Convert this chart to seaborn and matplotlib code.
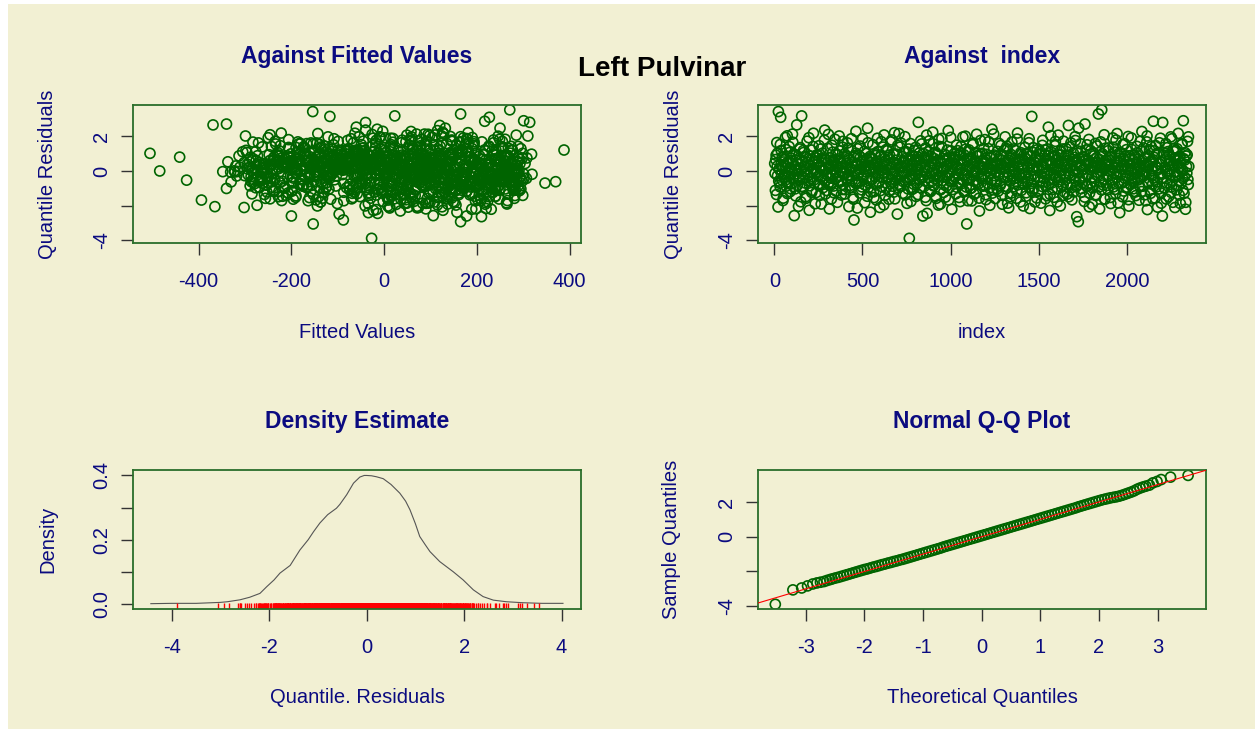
import numpy as np
import matplotlib
matplotlib.use("Agg")
import matplotlib.pyplot as plt
import seaborn as sns
from matplotlib.patches import Rectangle

# ---------------- data ----------------
# quantile residuals, first block of observations
residuals = [
    0.43, -1.12, 0.91, 1.64, -0.27, -2.08, 3.43, 0.12, -0.71, 3.10, 1.18, -0.52, 0.24, -1.57, 0.83, -0.19, 1.93, -0.88, 0.47, -1.31,
    -0.63, 1.41, 0.17, -1.02, 0.74, -0.06, 2.13, -0.38, 0.98, -2.58, 0.29, -1.44, 0.61, 2.66, -0.82, 0.09, -0.33, 1.27, -1.78, 3.18,
    0.52, -0.94, 1.07, -0.21, 0.03, -1.49, 0.79, 1.72, -0.58, 0.34, -2.27, 0.86, -0.43, 1.21, -1.13, 0.14, 2.18, -0.70, 0.57, -0.08,
    -1.24, 0.38, 0.93, -0.29, 1.46, -0.81, 0.22, -1.91, 0.68, 1.03, -0.47, 0.01, 2.36, -1.33, 0.63, -0.16, 1.31, -0.74, 0.27, -2.19,
    0.77, -0.42, -1.61, 0.11, 1.09, -0.87, 0.53, 1.83, -0.12, -1.18, 0.31, 0.94, -0.59, 2.02, -0.26, 0.58, -1.39, 0.19, 1.37, -0.79,
    -0.17, 0.99, -1.08, 0.42, -0.49, 1.62, 0.71, -2.06, 0.18, -0.83, 1.23, -0.31, 0.48, -1.52, -2.83, 0.88, 0.04, 2.29, -0.68, 0.33,
    1.28, -0.61, 0.08, -1.27, 0.80, 0.39, -0.92, 1.87, -0.23, 0.62, -1.83, 0.26, 1.01, -0.41, 2.47, -0.97, -0.02, 0.73, -2.38, 0.49,
    -0.53, 0.67, 1.52, -1.21, 0.16, -0.34, 0.89, -1.68, 0.44, 1.12, -0.64, 0.06, -2.11, 0.81, 1.69, -0.91, 0.28, -0.11, 2.08, -1.41,
    0.59, -0.99, 0.32, 1.17, -0.37, -1.63, 0.92, 0.13, -0.73, 1.79, -0.18, 0.51, -1.22, 2.21, -0.04, -0.54, 0.97, -2.49, 0.41, -0.78,
    -0.28, 1.38, -0.89, 0.23, 0.82, -1.29, 0.54, -0.09, 1.98, -0.62, 1.11, -1.87, 0.30, 0.69, -3.89, -0.39, 1.58, 0.02, -1.07, 0.87,
    0.37, -0.77, 1.19, -0.22, -1.47, 0.64, 0.07, 2.81, -0.51, 1.04, -0.96, 0.33, 1.56, -0.32, -2.60, 0.76, -0.57, 0.21, 1.33, -1.71,
    0.00, -2.45, 0.89, -0.69, 1.74, 0.28, -1.19, 0.46, -0.13, 2.24, -0.86, 0.72, -0.44, 1.08, -1.58, 0.17, 0.61, -1.97, 1.42, -0.27,
    -1.09, 0.48, 1.88, -0.36, 0.12, -0.79, 0.96, -1.51, 0.29, 0.71, -0.24, 2.33, -0.98, 0.43, -0.61, 1.16, -2.21, 0.04, 0.78, -0.48,
    0.66, -0.31, -1.32, 1.49, 0.19, -0.67, 0.91, 0.03, -1.77, 1.06, 0.36, -0.52, 1.96, -1.14, 0.59, -0.21, 1.26, -0.93, -3.06, 0.27,
    -0.42, 1.22, 0.34, -1.01, 0.78, -1.73, 0.09, 1.61, -0.58, 0.49, -0.11, -1.28, 2.12, 0.86, -0.77, 0.22, -2.31, 0.98, -0.29, 0.57,
    1.02, -0.88, 0.41, -0.19, 1.81, -1.37, 0.63, -0.01, -0.72, 1.29, 0.18, -1.98, 0.77, -0.53, 2.41, -1.09, 0.32, 0.92, -0.27, -1.59,
    -0.62, 0.31, 1.13, -1.17, 0.69, -0.07, -0.83, 1.47, 0.38, -1.92, 0.87, 0.12, -0.39, 1.97, -1.03, 0.52, 1.28, -0.33, -2.13, 0.59,
    0.21, -1.48, 0.82, 1.67, -0.28, 0.47, -0.91, 0.03, 1.19, -0.63, -1.16, 2.19, 0.29, -0.17, 0.68, -1.79, 0.97, -0.42, 0.39, -0.68,
    -0.76, 0.58, 1.36, -0.12, -1.26, 0.94, 0.17, -0.49, 1.86, -2.17, 0.42, -0.71, 3.15, 0.08, 1.07, -1.01, 0.52, -0.32, 0.79, -1.56,
    0.28, -0.37, -1.12, 0.97, 0.72, -1.86, -0.03, 1.48, -0.63, 0.24, -0.18, 1.21, -0.87, 0.58, -1.43, 0.91, 2.53, -0.47, -2.28, 0.39,
    1.09, -0.69, 0.43, -0.23, -1.52, 0.81, 1.71, -0.38, 0.13, -1.04, 2.07, 0.48, -0.27, -2.02, 0.93, 0.02, 1.27, -0.82, 0.34, -1.23,
    -0.51, 0.88, 0.21, -1.34, 0.62, 2.63, -0.14, 1.39, -0.78, 0.27, -1.67, 0.66, 1.03, -0.43, -0.01, 1.76, -0.91, -2.64, 0.53, -2.93,
    2.47, -0.58, 0.32, 1.13, -1.23, 0.04, -0.29, 0.77, -1.76, 2.71, 0.41, -0.87, 1.51, -0.22, 0.61, -2.07, 0.11, 1.18, -0.72, 0.19,
    -0.98, 0.47, 0.87, -0.41, 1.59, -1.42, 0.23, -0.08, 3.29, 0.68, -2.19, 0.32, -0.63, 3.53, 0.99, -0.81, 0.12, -1.62, 1.31, 0.38,
    0.61, -0.28, -1.07, 1.33, 0.02, 0.79, -1.88, 0.37, -0.49, 1.91, -0.92, 0.18, 1.09, -1.31, -0.19, 2.16, 0.53, -0.68, 0.87, -2.41,
    -0.21, 0.98, 0.28, -1.49, 0.72, -0.61, 1.57, 0.09, -0.97, 0.52, -0.33, 1.99, -2.03, 0.88, -0.79, 0.03, 1.24, -0.37, 0.63, -1.19,
    0.93, -0.48, -1.21, 0.36, 1.42, -0.09, 0.69, -1.69, 0.22, -0.41, 1.14, 2.28, -0.88, 0.47, -0.23, -1.38, 0.81, -0.03, 1.68, -2.23,
    -0.67, 0.29, 1.23, -1.11, 0.57, -0.28, 0.14, -1.61, 2.87, 0.79, -0.52, 1.47, -0.93, 0.18, -2.09, 1.01, 0.42, -0.17, 1.89, -1.27,
    0.48, -2.60, 2.80, -0.38, 0.91, -0.99, 0.21, 1.58, -0.69, 0.01, 1.12, -1.48, 0.59, -0.24, 1.97, -0.91, 0.31, -1.81, 1.29, 0.72,
    -0.32, 1.19, -1.09, 0.37, 2.17, -0.59, 0.83, -1.88, 0.07, 1.52, -0.41, 2.90, -1.29, 0.63, -2.21, 0.86, -0.12, 1.71, -0.79, 0.26,
]

# quantile residuals, second block of observations
residuals_b = [
    -0.14, 0.66, -1.36, 0.27, 1.04, -0.58, 0.09, -0.92, 1.53, 0.36, -0.21, 0.81, -1.71, 0.52, -0.37, 0.14, 1.24, -0.66, 2.03, -0.03,
    0.44, -0.28, 1.07, -1.19, 0.18, -0.74, 0.61, 1.66, -0.46, 0.07, -1.03, 0.93, -0.16, 0.39, -2.04, 0.72, -0.52, 1.35, 0.11, -0.89,
    -0.41, 1.18, 0.26, -0.69, 0.84, -1.58, 0.13, 0.49, -0.24, 1.92, -0.86, 0.33, -0.07, -1.24, 0.67, 1.41, -0.53, 0.06, -1.89, 0.75,
    0.92, -0.11, -0.76, 0.58, -1.42, 0.31, 1.27, -0.33, 0.04, -0.97, 0.71, 1.78, -0.59, 0.17, -1.13, 0.46, -0.26, 2.11, -0.68, 0.22,
    -0.84, 0.35, 1.49, -0.18, 0.62, -1.26, 0.08, -0.45, 0.97, 0.24, -1.81, 0.69, -0.31, 1.16, 0.02, -0.62, 0.43, -1.07, 1.71, -0.09,
    0.57, -1.33, 0.19, 0.86, -0.43, 1.31, -0.22, 0.64, -0.96, 0.11, 1.86, -0.57, 0.28, -1.63, 0.79, -0.12, -0.71, 1.02, 0.37, -2.14,
    -0.26, 0.91, -0.63, 1.44, 0.12, -1.09, 0.53, -0.38, 0.22, 1.13, -0.82, -0.04, 0.68, -1.46, 1.63, 0.29, -0.56, 0.84, -1.21, 0.16,
    0.73, -0.47, 0.38, -1.54, 1.01, 0.16, -0.81, 0.57, 1.89, -0.19, -0.67, 0.27, -1.14, 0.92, 0.03, -0.36, 1.38, -1.96, 0.49, -0.06,
    -0.69, 1.24, 0.07, -0.33, 0.79, -1.17, 0.46, 1.68, -0.52, 0.23, -0.88, 0.98, -0.14, -1.61, 0.62, 0.31, -0.42, 1.47, -0.97, 2.16,
    0.24, -0.86, 1.61, -0.27, 0.47, -0.61, 1.09, 0.18, -1.38, 0.73, -0.08, 0.36, -1.04, 1.27, -0.43, 0.59, -1.76, 0.14, 0.91, -0.31,
    -1.01, 0.53, -0.17, 1.36, 0.29, -0.72, 0.82, -1.36, 0.11, 0.64, -0.49, 1.74, -0.23, 0.41, 1.02, -0.91, 0.06, -1.52, 0.77, 2.07,
    0.63, -0.38, 1.12, -1.11, 0.21, 0.84, -0.62, 0.04, 1.57, -0.82, 0.38, -0.19, -1.46, 0.97, 0.14, -0.54, 1.83, -0.29, 0.51, -1.91,
    0.19, 1.39, -0.56, 0.72, -1.24, 0.09, 0.58, -0.34, -0.87, 1.21, 0.34, -1.68, 0.81, -0.12, 1.94, -0.61, 0.27, -1.07, 0.46, 0.99,
    -0.36, 0.81, 0.29, -0.94, 1.17, -0.19, -1.53, 0.66, 0.12, 1.42, -0.73, 0.44, -0.27, 0.94, -1.19, 2.01, 0.07, -0.48, 0.63, -1.72,
    1.11, -0.52, 0.16, 0.73, -0.99, 0.41, 1.52, -0.28, -1.34, 0.58, 0.02, 1.03, -0.66, -0.13, 0.89, -1.57, 0.34, 1.76, -0.41, 0.21,
    -0.47, 0.22, 1.31, -0.83, 0.51, -1.66, 0.96, 0.13, -0.31, 1.69, -0.98, 0.37, -0.14, 0.83, -1.28, 0.06, 2.13, -0.61, 0.46, -0.06,
    0.86, -1.03, 0.39, -0.24, 1.58, 0.14, -0.72, 0.93, -1.41, 0.27, -0.36, 1.19, 0.48, -0.89, -0.04, 1.43, -1.86, 0.62, -0.18, 0.71,
    -0.59, 0.96, -1.27, 0.33, 0.08, 1.27, -0.44, 0.72, -0.17, -1.58, 1.84, 0.26, -0.79, 0.54, -0.32, 1.06, -1.12, 0.13, 0.67, -2.02,
    0.32, -0.16, 0.74, -1.46, 1.02, -0.63, 0.23, 1.63, -0.97, 0.47, -0.27, 0.88, -1.17, 0.09, 1.34, -0.51, -1.79, 0.66, 0.17, 1.22,
    -1.18, 0.62, 0.09, 1.14, -0.58, 0.34, -0.89, 1.77, 0.19, -0.44, 0.91, -1.61, 0.42, -0.09, 1.27, -0.73, 0.58, -1.36, 2.04, -0.22,
    0.48, -1.07, 0.83, 0.16, -0.49, 1.46, -0.31, 0.66, -1.79, 0.27, 0.93, -0.62, 1.13, 0.04, -0.93, 0.38, -1.41, 1.72, -0.16, 0.57,
    -0.32, 1.29, -0.73, 0.44, 0.91, -1.49, 0.17, -0.26, 1.62, -0.96, 0.53, 0.02, -1.21, 0.79, 1.98, -0.57, 0.31, -0.84, 1.16, -0.11,
    0.71, -0.43, 1.57, -1.02, 0.26, -0.67, 0.84, 0.12, -1.51, 0.58, 1.21, -0.21, -0.89, 0.43, 1.82, -1.28, 0.07, 0.96, -0.36, -1.93,
    0.27, 1.03, -0.61, 0.13, -1.37, 0.76, 1.44, -0.24, 0.47, -0.92, 0.19, 1.68, -1.09, -0.02, 0.86, -0.47, 2.09, -1.63, 0.34, 0.61,
    -0.84, 0.39, 1.17, -0.29, 0.63, -1.53, 0.08, 0.94, -0.66, 1.37, -0.13, -1.07, 0.52, 1.79, -0.38, 0.21, -1.84, 0.74, -0.02, 1.08,
    0.56, -0.71, 0.14, 1.52, -1.16, 0.31, -0.44, 0.87, 1.23, -0.93, 0.06, -1.66, 0.68, 0.29, -0.27, 1.91, -0.58, 0.43, -1.03, 0.12,
    -0.19, 0.81, -1.42, 0.47, 1.06, -0.52, 0.24, -0.86, 1.71, 0.09, -1.19, 0.62, -0.31, 1.33, -0.07, 0.77, -1.72, 0.36, 2.02, -0.64,
    0.88, -0.22, 0.49, -1.29, 1.41, 0.03, -0.78, 0.64, -0.41, 1.16, -1.57, 0.28, 0.96, -0.63, 0.17, -1.04, 1.63, -0.14, 0.53, -1.86,
    -0.44, 1.07, -0.96, 0.23, 0.69, -1.62, 1.34, -0.18, 0.42, 0.93, -0.77, 0.11, -1.24, 1.86, -0.53, 0.36, 1.12, -0.06, -2.11, 0.74,
    0.61, -0.83, 1.28, -0.26, 0.19, -1.39, 0.84, 0.47, -0.68, 1.58, 0.04, -1.12, 0.71, -0.34, 1.06, -1.81, 0.26, 0.93, -0.49, 1.97,
]

# fitted values, first block
fitted = [
    -212, 45, -88, 163, -301, 12, -154, 254, -47, 227, 118, -265, 71, -133, 289, -19, 190, -176, 96, -58,
    138, -243, -71, 205, -9, -322, 87, 276, -118, 106, 33, -190, 241, -369, -36, 152, -287, 60, 223, 23,
    -98, 174, -230, 8, 262, -141, 66, -45, 298, -275, 127, -13, 213, 388, -199, 41, -63, 347, 184, -111,
    235, -27, 142, -318, 79, -164, 18, 265, -84, 197, -252, 113, -40, 58, -128, 280, -205, 147, -5, 90,
    -72, 216, -246, 31, 168, -104, -337, 249, 4, -158, 131, 73, -220, 310, -55, 188, -17, -123, 257, 99,
    161, -183, 52, -31, 232, -271, 120, -365, -95, 283, 15, -144, 200, 82, -88, -231, 140, -3, -60, 245,
    -120, 37, 271, -207, -441, 104, -66, 178, -293, 219, 49, -24, -169, 293, 132, -81, 6, -239, 157, 63,
    -426, 211, -49, 122, -260, 248, -11, -394, 85, 169, -135, 27, -302, 260, 194, -76, 57, -188, 110, -33,
    193, -214, 76, -42, 268, -115, 148, 2, -279, 236, -160, 96, -21, 181, -348, 43, 318, -97, 127, -184,
    55, -136, 230, -258, 117, -69, 274, -192, 165, 11, -305, 90, 203, -44, -27, 245, -167, 135, -4, -226,
    -62, 186, -298, 68, 240, -151, 20, 314, -107, 159, -38, 286, -234, 101, -200, 47, 213, -85, -172, 266,
    -484, -14, 252, -125, 74, -217, 178, -52, 290, 126, -289, 36, 222, -161, 93, -3, -246, 155, 61, -103,
    146, -233, 19, 280, -94, 207, -174, 58, -320, 240, -28, 115, -140, 304, 81, -57, 189, -259, 29, 171,
    -39, 228, -285, 107, 13, -196, 265, -75, 149, -130, 52, 201, -10, 292, -227, 86, -112, 167, -153, 38,
    259, -81, 124, -340, 72, 197, -20, -145, 241, 9, -263, 161, 95, -58, 276, -192, 35, 214, -116, 83,
    -505, 133, -44, 247, -206, 62, 185, -132, 17, 295, -89, -274, 112, 229, -15, 154, -178, 39, -65, 208,
    370, -101, 176, -240, 46, 263, -156, 92, -30, 218, -313, 138, 3, -121, 250, -69, 115, -198, 71, -8,
    210, -52, 84, -283, 143, 33, -165, 275, -92, 189, -6, -222, 121, 56, 238, -137, -37, 302, -255, 99,
    -74, 252, -190, 129, 18, -248, 172, 64, -108, 220, -31, 284, -117, 103, -296, 41, 195, -150, 8, 146,
    183, -129, 27, 236, -213, 95, -46, 156, -330, 67, 271, -99, 200, -169, 14, 119, -60, 243, -23, -268,
    -186, 75, 293, -61, 141, 6, -235, 192, -118, 261, 49, -302, 168, -41, 215, -140, 91, -11, 286, -87,
    39, -209, 154, 268, -96, 120, -16, -263, 230, 80, -147, 196, -55, 307, -178, 58, 139, 210, -290, 165,
    250, 15, -136, 182, -64, 244, -223, 107, -2, -340, 163, 51, -109, 219, -276, 125, -35, 277, -181, 69,
    -126, 204, 26, -244, 135, 282, -79, -160, 165, 60, 198, -29, 111, 271, -201, 81, -295, 248, -48, 173,
    92, -171, 239, -19, -286, 150, 44, -106, 267, 3, -215, 178, -66, 125, 319, -143, 23, -251, 206, -34,
    256, -91, 119, -228, 35, 192, -153, 76, -8, 288, -266, 143, 8, -45, 223, -187, 100, 61, -124, 233,
    -51, 164, -253, 97, 274, -113, 21, 209, -311, 130, -82, 58, 246, -164, -1, 185, -237, 112, 47, -17,
    143, -219, 70, 283, -149, 28, 199, -70, 217, -288, 109, -25, 239, -198, 52, 162, -93, 301, 14, -130,
    -270, 178, -40, 123, 260, -57, 191, -180, 87, -323, 36, 226, -121, 155, -8, 279, -211, 99, -77, 247,
    65, -150, 212, -30, 128, -245, 266, -101, 10, 175, -196, 301, 42, -62, 231, 88, -281, 147, -14, 253,
]

# fitted values, second block
fitted_b = [
    62, -187, 214, -94, 147, -266, 29, 185, -139, 275, -37, 98, -221, 243, 6, -108, 168, -53, 124, -315,
    -163, 81, -12, 233, -76, 157, -238, 19, 296, -128, 111, -43, 198, -295, 71, -184, 262, 1, -97, 139,
    206, -66, 134, -199, 47, 281, -117, -21, 169, -250, 88, 226, -148, 14, -82, 252, -176, 103, -34, 308,
    -49, 161, -132, 251, -211, 73, -7, 217, -90, 126, -283, 39, 187, -60, 279, -162, 95, -26, 236, -119,
    117, -243, 54, -112, 196, -32, 267, -179, 84, -70, 152, -15, 240, -226, 31, -147, 208, 68, -99, 287,
    -204, 24, 178, -57, 255, -137, 92, -2, -269, 143, 57, 231, -87, -196, 119, 191, -41, 299, -156, 12,
    173, -99, -29, 226, -173, 66, 288, -121, 149, -48, -254, 105, 16, 240, -66, -212, 133, 42, -131, 259,
    -77, 249, 32, -161, 117, -284, 201, 79, -24, -146, 269, 7, 155, -228, 94, -58, 227, 115, -107, -331,
    36, -127, 282, -63, 141, -199, 71, 211, -11, -247, 163, -81, 251, 22, -169, 101, -37, 193, -277, 128,
    -141, 197, -18, 87, -218, 259, -55, 133, 44, -91, 178, -259, 295, -8, 123, -182, 64, -121, 241, 17,
    238, -33, 109, -206, 59, -87, 186, -153, 271, 3, -262, 145, -47, 219, 79, -124, 30, -191, 162, 285,
    -110, 69, -277, 167, 27, -63, 234, 119, -184, 290, -19, 76, 196, -137, 48, -236, 261, 12, -88, 137,
    83, -174, 207, -22, 131, -103, 262, -208, 49, -59, 177, 9, -146, 231, 104, -287, 152, -38, 276, -14,
    177, -114, 41, -242, 218, 96, -67, 146, -189, 289, -1, -134, 112, 61, -227, 246, -85, 18, 196, -164,
    -22, 155, -198, 92, 244, -52, 15, -163, 189, 125, -106, 272, 54, -240, 147, -29, 224, -79, 100, -291,
    118, -56, 268, -174, 6, 202, -121, 85, -249, 163, 37, -94, 245, -13, 131, -203, 70, 282, -146, 54,
    -89, 233, -145, 40, 182, -24, -263, 121, 299, -67, 156, 1, -190, 90, 212, -128, 49, 258, -51, -214,
    154, -171, 96, 261, -41, 20, 203, -115, 129, -256, 81, -31, 232, -200, 58, 179, -74, 11, 293, -144,
    35, 195, -102, -219, 142, 71, -56, 236, -167, 4, 113, -273, 178, -12, 255, 86, -137, 27, -63, 217,
    -237, 107, 270, -81, 46, -152, 168, -17, 223, 130, -109, 11, -198, 286, 63, -48, 186, -258, 98, 151,
    226, -14, -161, 137, 74, -224, 248, -69, 109, 2, -183, 167, -112, 291, 38, -245, 205, 91, -36, 142,
    -124, 190, 53, -197, 266, 119, -83, 1, -158, 223, 98, -273, 145, 33, -54, 257, -217, 172, 72, -11,
    103, -236, 194, 10, -106, 271, 56, -170, 138, -31, 241, -90, 84, -261, 180, -5, 118, -141, 292, 26,
    -160, 61, 238, -71, 161, -220, 13, 204, -98, 117, -26, -186, 279, 82, -129, 143, -246, 36, 212, -57,
    199, -108, 30, 271, -165, 115, -42, 167, -283, 76, 229, -12, -121, 146, 52, -209, 264, -74, 187, 5,
    -61, 150, -227, 88, 213, -140, 24, -89, 276, 124, -192, 47, -35, 235, -116, 171, -268, 60, 291, -3,
    131, -204, 67, 227, -54, 184, -126, 13, 255, -233, 99, -18, 158, -171, 44, 270, -87, 209, -299, 110,
    -32, 263, -150, 56, 121, -262, 176, -77, 94, 233, 7, -197, 146, -48, 285, -119, 37, 197, -218, 83,
    168, -93, 277, -207, 58, 134, -44, 252, -153, 19, 191, -241, 106, -71, 237, -17, 159, -130, 74, 298,
    -197, 48, 157, -125, 263, 17, -76, 192, -225, 124, -38, 248, 81, -160, 3, 217, -110, 140, -283, 59,
]

# observation index, first block
obs_index = [
    2, 6, 10, 14, 18, 21, 23, 27, 31, 36, 39, 43, 47, 51, 55, 59, 63, 67, 71, 75,
    80, 84, 88, 91, 95, 99, 103, 107, 110, 113, 117, 121, 124, 127, 131, 135, 139, 144, 150, 155,
    159, 163, 167, 171, 175, 178, 182, 186, 190, 194, 198, 202, 206, 210, 214, 218, 222, 226, 230, 234,
    238, 242, 246, 250, 254, 258, 262, 266, 270, 274, 278, 282, 286, 290, 294, 298, 302, 305, 309, 312,
    316, 320, 324, 328, 332, 336, 340, 344, 348, 352, 356, 360, 364, 368, 372, 376, 380, 384, 388, 391,
    395, 399, 403, 407, 411, 415, 419, 423, 427, 431, 435, 439, 443, 447, 452, 455, 459, 463, 466, 469,
    473, 477, 481, 485, 489, 493, 497, 501, 505, 509, 513, 517, 521, 525, 529, 533, 537, 541, 545, 548,
    551, 555, 559, 563, 567, 571, 575, 579, 583, 587, 591, 595, 599, 603, 607, 611, 615, 619, 623, 627,
    630, 634, 638, 642, 646, 650, 654, 658, 662, 666, 670, 674, 678, 682, 686, 690, 694, 698, 702, 705,
    709, 713, 717, 721, 725, 729, 733, 737, 741, 745, 749, 753, 757, 761, 766, 769, 773, 777, 781, 784,
    788, 792, 796, 800, 804, 808, 812, 817, 820, 824, 828, 832, 836, 840, 843, 847, 851, 855, 859, 862,
    865, 867, 871, 875, 879, 883, 887, 891, 895, 899, 903, 907, 911, 915, 919, 923, 927, 931, 935, 939,
    943, 947, 951, 955, 959, 963, 967, 971, 975, 979, 983, 987, 991, 995, 999, 1003, 1007, 1011, 1015, 1018,
    1022, 1026, 1030, 1034, 1038, 1042, 1046, 1050, 1054, 1058, 1062, 1066, 1070, 1074, 1078, 1082, 1086, 1089, 1092, 1096,
    1100, 1104, 1108, 1112, 1116, 1120, 1124, 1128, 1132, 1136, 1140, 1144, 1148, 1152, 1156, 1160, 1164, 1168, 1172, 1175,
    1179, 1183, 1187, 1191, 1195, 1199, 1203, 1207, 1211, 1215, 1219, 1223, 1227, 1231, 1235, 1239, 1243, 1247, 1251, 1254,
    1258, 1262, 1266, 1270, 1274, 1278, 1282, 1286, 1290, 1294, 1298, 1302, 1306, 1310, 1314, 1318, 1322, 1326, 1330, 1333,
    1336, 1340, 1344, 1348, 1352, 1356, 1360, 1364, 1368, 1372, 1376, 1380, 1384, 1388, 1392, 1396, 1400, 1404, 1408, 1411,
    1414, 1418, 1422, 1426, 1430, 1434, 1438, 1442, 1446, 1450, 1454, 1458, 1461, 1465, 1469, 1473, 1477, 1481, 1485, 1489,
    1493, 1497, 1501, 1505, 1509, 1513, 1517, 1521, 1525, 1529, 1533, 1537, 1541, 1545, 1549, 1553, 1555, 1559, 1563, 1567,
    1571, 1575, 1579, 1583, 1587, 1591, 1595, 1599, 1603, 1607, 1611, 1615, 1619, 1623, 1627, 1631, 1635, 1639, 1643, 1646,
    1650, 1654, 1658, 1662, 1666, 1669, 1673, 1677, 1681, 1685, 1689, 1693, 1697, 1701, 1705, 1709, 1713, 1716, 1721, 1725,
    1727, 1731, 1735, 1739, 1743, 1747, 1751, 1755, 1759, 1763, 1767, 1771, 1775, 1779, 1783, 1787, 1791, 1795, 1799, 1803,
    1806, 1810, 1814, 1818, 1822, 1826, 1830, 1834, 1839, 1842, 1846, 1850, 1854, 1858, 1862, 1866, 1870, 1874, 1878, 1881,
    1885, 1889, 1893, 1897, 1901, 1905, 1909, 1913, 1917, 1921, 1925, 1929, 1933, 1937, 1941, 1945, 1949, 1953, 1957, 1960,
    1964, 1968, 1972, 1976, 1980, 1984, 1988, 1992, 1996, 2000, 2004, 2008, 2012, 2016, 2020, 2024, 2028, 2032, 2036, 2039,
    2042, 2046, 2050, 2054, 2058, 2062, 2066, 2070, 2074, 2078, 2082, 2086, 2090, 2094, 2098, 2102, 2106, 2110, 2114, 2117,
    2121, 2125, 2129, 2133, 2137, 2141, 2145, 2148, 2151, 2155, 2159, 2163, 2167, 2171, 2175, 2179, 2183, 2187, 2191, 2195,
    2198, 2202, 2204, 2206, 2210, 2214, 2218, 2222, 2226, 2230, 2234, 2238, 2242, 2246, 2250, 2254, 2258, 2262, 2266, 2270,
    2276, 2280, 2284, 2288, 2292, 2296, 2300, 2304, 2308, 2312, 2316, 2321, 2325, 2329, 2333, 2337, 2341, 2345, 2349, 2352,
]

# observation index, second block
obs_index_b = [
    4, 8, 12, 16, 19, 25, 29, 33, 34, 38, 41, 45, 49, 53, 57, 61, 65, 69, 73, 77,
    79, 82, 86, 90, 93, 97, 101, 105, 109, 115, 119, 123, 129, 133, 137, 141, 142, 147, 152, 157,
    161, 165, 169, 173, 177, 180, 184, 188, 192, 196, 200, 204, 208, 212, 216, 220, 224, 228, 232, 236,
    240, 244, 248, 252, 256, 260, 264, 268, 272, 276, 280, 284, 288, 292, 296, 300, 303, 307, 310, 314,
    318, 322, 326, 330, 334, 338, 342, 346, 350, 354, 358, 362, 366, 370, 374, 378, 382, 386, 389, 393,
    397, 401, 405, 409, 413, 417, 421, 425, 429, 433, 437, 441, 445, 449, 450, 457, 461, 464, 468, 471,
    475, 479, 483, 487, 491, 495, 499, 503, 507, 511, 515, 519, 523, 527, 531, 535, 539, 543, 546, 550,
    553, 557, 561, 565, 569, 573, 577, 581, 585, 589, 593, 597, 601, 605, 609, 613, 617, 621, 625, 629,
    632, 636, 640, 644, 648, 652, 656, 660, 664, 668, 672, 676, 680, 684, 688, 692, 696, 700, 703, 707,
    711, 715, 719, 723, 727, 731, 735, 739, 743, 747, 751, 755, 759, 763, 764, 771, 775, 779, 782, 786,
    790, 794, 798, 802, 806, 810, 814, 815, 818, 822, 826, 830, 834, 838, 845, 849, 853, 857, 861, 864,
    869, 873, 877, 881, 885, 889, 893, 897, 901, 905, 909, 913, 917, 921, 925, 929, 933, 937, 941, 942,
    945, 949, 953, 957, 961, 965, 969, 973, 977, 981, 985, 989, 993, 997, 1001, 1005, 1009, 1013, 1016, 1020,
    1024, 1028, 1032, 1036, 1040, 1044, 1048, 1052, 1056, 1060, 1064, 1068, 1072, 1076, 1080, 1084, 1087, 1091, 1094, 1098,
    1102, 1106, 1110, 1114, 1118, 1122, 1126, 1130, 1134, 1138, 1142, 1146, 1150, 1154, 1158, 1162, 1166, 1170, 1173, 1177,
    1181, 1185, 1189, 1193, 1197, 1201, 1205, 1209, 1213, 1217, 1221, 1225, 1229, 1233, 1237, 1241, 1245, 1249, 1252, 1256,
    1260, 1264, 1268, 1272, 1276, 1280, 1284, 1288, 1292, 1296, 1300, 1304, 1308, 1312, 1316, 1320, 1324, 1328, 1331, 1335,
    1338, 1342, 1346, 1350, 1354, 1358, 1362, 1366, 1370, 1374, 1378, 1382, 1386, 1390, 1394, 1398, 1402, 1406, 1409, 1413,
    1416, 1420, 1424, 1428, 1432, 1436, 1440, 1444, 1448, 1452, 1456, 1460, 1463, 1467, 1471, 1475, 1479, 1483, 1487, 1491,
    1495, 1499, 1503, 1507, 1511, 1515, 1519, 1523, 1527, 1531, 1535, 1539, 1543, 1547, 1551, 1557, 1561, 1565, 1569, 1570,
    1573, 1577, 1581, 1585, 1589, 1593, 1597, 1601, 1605, 1609, 1613, 1617, 1621, 1625, 1629, 1633, 1637, 1641, 1644, 1648,
    1652, 1656, 1660, 1664, 1668, 1671, 1675, 1679, 1683, 1687, 1691, 1695, 1699, 1703, 1707, 1711, 1715, 1718, 1719, 1723,
    1729, 1733, 1737, 1741, 1745, 1749, 1753, 1757, 1761, 1765, 1769, 1773, 1777, 1781, 1785, 1789, 1793, 1797, 1801, 1804,
    1808, 1812, 1816, 1820, 1824, 1828, 1832, 1836, 1837, 1844, 1848, 1852, 1856, 1860, 1864, 1868, 1872, 1876, 1879, 1883,
    1887, 1891, 1895, 1899, 1903, 1907, 1911, 1915, 1919, 1923, 1927, 1931, 1935, 1939, 1943, 1947, 1951, 1955, 1958, 1962,
    1966, 1970, 1974, 1978, 1982, 1986, 1990, 1994, 1998, 2002, 2006, 2010, 2014, 2018, 2022, 2026, 2030, 2034, 2037, 2041,
    2044, 2048, 2052, 2056, 2060, 2064, 2068, 2072, 2076, 2080, 2084, 2088, 2092, 2096, 2100, 2104, 2108, 2112, 2115, 2119,
    2123, 2127, 2131, 2135, 2139, 2143, 2146, 2150, 2153, 2157, 2161, 2165, 2169, 2173, 2177, 2181, 2185, 2189, 2193, 2196,
    2200, 2208, 2212, 2216, 2220, 2224, 2228, 2232, 2236, 2240, 2244, 2248, 2252, 2256, 2260, 2264, 2268, 2272, 2273, 2274,
    2278, 2282, 2286, 2290, 2294, 2298, 2302, 2306, 2310, 2314, 2318, 2319, 2323, 2327, 2331, 2335, 2339, 2343, 2347, 2350,
]

# kernel density estimate of the residuals (curve)
density_x = [-4.43, -4.0, -3.5, -3.0, -2.86, -2.6, -2.4, -2.19, -2.05, -1.9, -1.78, -1.57, -1.37, -1.2,
             -1.09, -0.96, -0.8, -0.62, -0.55, -0.41, -0.27, -0.14, -0.05, 0.0, 0.1, 0.2, 0.34, 0.5,
             0.68, 0.8, 0.89, 1.0, 1.09, 1.2, 1.3, 1.5, 1.78, 1.98, 2.19, 2.39, 2.6, 2.87, 3.2, 3.6, 4.03]
density_y = [0.001, 0.002, 0.002, 0.005, 0.007, 0.013, 0.021, 0.033, 0.054, 0.075, 0.096, 0.12, 0.168, 0.2,
             0.225, 0.252, 0.278, 0.298, 0.31, 0.34, 0.376, 0.395, 0.400, 0.400, 0.399, 0.396, 0.39, 0.372,
             0.345, 0.32, 0.293, 0.25, 0.21, 0.185, 0.163, 0.132, 0.10, 0.075, 0.044, 0.023, 0.012, 0.007, 0.004, 0.002, 0.002]

# normal Q-Q plot: theoretical vs sample quantiles
qq_theoretical = [-3.52, -3.22, -3.07, -2.97, -2.88, -2.81, -2.75, -2.69, -2.64, -2.59, -2.55, -2.50,
                  -2.45, -2.40, -2.35, -2.30, -2.25, -2.20, -2.15, -2.10, -2.05, -2.00, -1.95, -1.90, -1.85, -1.80,
                  -1.75, -1.70, -1.65, -1.60, -1.55, -1.50, -1.45, -1.40, -1.35, -1.30, -1.25, -1.20, -1.15, -1.10,
                  -1.05, -1.00, -0.95, -0.90, -0.85, -0.80, -0.75, -0.70, -0.65, -0.60, -0.55, -0.50, -0.45, -0.40,
                  -0.35, -0.30, -0.25, -0.20, -0.15, -0.10, -0.05, 0.00, 0.05, 0.10, 0.15, 0.20, 0.25, 0.30, 0.35,
                  0.40, 0.45, 0.50, 0.55, 0.60, 0.65, 0.70, 0.75, 0.80, 0.85, 0.90, 0.95, 1.00, 1.05, 1.10, 1.15,
                  1.20, 1.25, 1.30, 1.35, 1.40, 1.45, 1.50, 1.55, 1.60, 1.65, 1.70, 1.75, 1.80, 1.85, 1.90, 1.95,
                  2.00, 2.05, 2.10, 2.15, 2.20, 2.25, 2.30, 2.35, 2.40, 2.45, 2.50,
                  2.55, 2.60, 2.65, 2.70, 2.75, 2.80, 2.86, 2.92, 2.99, 3.06, 3.22, 3.52]
qq_sample = [-3.89, -3.06, -2.95, -2.83, -2.72, -2.66, -2.62, -2.58, -2.52, -2.47, -2.43, -2.38,
             -2.34, -2.29, -2.24, -2.19, -2.14, -2.09, -2.04, -1.99, -1.94, -1.89, -1.85, -1.80, -1.75, -1.71,
             -1.66, -1.61, -1.57, -1.52, -1.48, -1.43, -1.39, -1.34, -1.30, -1.25, -1.20, -1.15, -1.10, -1.05,
             -1.00, -0.95, -0.90, -0.85, -0.80, -0.75, -0.70, -0.65, -0.59, -0.54, -0.49, -0.44, -0.39, -0.34,
             -0.29, -0.24, -0.19, -0.14, -0.09, -0.04, 0.01, 0.06, 0.11, 0.16, 0.21, 0.26, 0.31, 0.36, 0.41,
             0.46, 0.51, 0.56, 0.61, 0.66, 0.71, 0.76, 0.81, 0.86, 0.91, 0.96, 1.01, 1.06, 1.11, 1.16, 1.21,
             1.26, 1.31, 1.36, 1.41, 1.46, 1.51, 1.56, 1.61, 1.66, 1.72, 1.77, 1.82, 1.87, 1.92, 1.97, 2.02,
             2.07, 2.12, 2.16, 2.20, 2.24, 2.27, 2.30, 2.34, 2.39, 2.45, 2.51,
             2.57, 2.64, 2.73, 2.80, 2.86, 2.91, 2.97, 3.10, 3.18, 3.29, 3.43, 3.53]

main_title = "Left Pulvinar"
panel_titles = ["Against Fitted Values", "Against  index", "Density Estimate", "Normal Q-Q Plot"]

# ---------------- style ----------------
BG = "#F2F0D3"
NAVY = "#0B0B80"
PT_GREEN = "#006400"
FRAME = "#2A6E2A"
FONT = "Liberation Sans"

plt.rcParams["font.family"] = [FONT, "DejaVu Sans"]

W, H = 1255, 729
fig = plt.figure(figsize=(W / 100, H / 100), dpi=100)
fig.patch.set_facecolor("white")
fig.patches.append(Rectangle((8 / W, 0), 1, 1 - 4 / H, transform=fig.transFigure,
                             facecolor=BG, edgecolor="none", zorder=-10))


def px_axes(left, top, right, bottom):
    return fig.add_axes([left / W, 1 - bottom / H, (right - left) / W, (bottom - top) / H])


ax_fit = px_axes(133.3, 105, 580.7, 243)
ax_idx = px_axes(758.3, 105, 1205.7, 243)
ax_den = px_axes(133.3, 470, 581.0, 609)
ax_qq = px_axes(758.3, 470, 1205.7, 609)

all_resid = residuals + residuals_b
scatter_kw = dict(s=52, facecolor="none", edgecolor=PT_GREEN, linewidth=1.2, legend=False)

sns.scatterplot(x=fitted + fitted_b, y=all_resid, ax=ax_fit, **scatter_kw)
sns.scatterplot(x=obs_index + obs_index_b, y=all_resid, ax=ax_idx, **scatter_kw)

sns.lineplot(x=density_x, y=density_y, ax=ax_den, color="#555555", linewidth=0.8,
             sort=False, estimator=None)
sns.rugplot(x=all_resid, ax=ax_den, height=0.046, color="red", linewidth=1.0,
            expand_margins=False)

sns.scatterplot(x=qq_theoretical, y=qq_sample, ax=ax_qq, **scatter_kw)
ax_qq.axline((0, 0), slope=1, color="red", linewidth=0.8, zorder=5)


def style(ax, title, xlim, ylim, xticks, yticks, yticklabels, xlabel, ylabel,
          xlab_y, ylab_x):
    ax.set_facecolor(BG)
    ax.set_xlim(*xlim)
    ax.set_ylim(*ylim)
    for sp in ax.spines.values():
        sp.set_color(FRAME)
        sp.set_linewidth(1.3)
    ax.set_xticks(xticks)
    ax.set_xticklabels([str(t) for t in xticks])
    ax.set_yticks(yticks)
    ax.set_yticklabels(yticklabels, rotation=90, va="center")
    ax.tick_params(length=8.6, width=1.0, color="#333333", labelcolor=NAVY, labelsize=14.5)
    ax.tick_params(axis="x", pad=12.5)
    ax.tick_params(axis="y", pad=7.5)
    ax.set_title(title, fontsize=16.5, fontweight="bold", color=NAVY, pad=30)
    ax.set_xlabel(xlabel, fontsize=14.5, color=NAVY)
    ax.set_ylabel(ylabel, fontsize=14.5, color=NAVY)
    ax.xaxis.set_label_coords(0.5, xlab_y)
    ax.yaxis.set_label_coords(ylab_x, 0.5)


style(ax_fit, panel_titles[0], (-541, 424), (-4.16, 3.81), [-400, -200, 0, 200, 400],
      [-4, -2, 0, 2], ["-4", "", "0", "2"], "Fitted Values", "Quantile Residuals", -0.578, -0.1705)
style(ax_idx, panel_titles[1], (-91, 2448), (-4.16, 3.81), [0, 500, 1000, 1500, 2000],
      [-4, -2, 0, 2], ["-4", "", "0", "2"], "index", "Quantile Residuals", -0.578, -0.168)
style(ax_den, panel_titles[2], (-4.79, 4.40), (-0.0156, 0.417), [-4, -2, 0, 2, 4],
      [0.0, 0.1, 0.2, 0.3, 0.4], ["0.0", "", "0.2", "", "0.4"], "Quantile. Residuals", "Density",
      -0.570, -0.1705)
style(ax_qq, panel_titles[3], (-3.81, 3.82), (-4.16, 3.84), [-3, -2, -1, 0, 1, 2, 3],
      [-4, -2, 0, 2], ["-4", "", "0", "2"], "Theoretical Quantiles", "Sample Quantiles",
      -0.570, -0.173)

fig.text(662 / W, 1 - 76 / H, main_title, ha="center", va="baseline",
         fontsize=20, fontweight="bold", color="black")

fig.savefig("out.png", dpi=100, facecolor=fig.get_facecolor())
